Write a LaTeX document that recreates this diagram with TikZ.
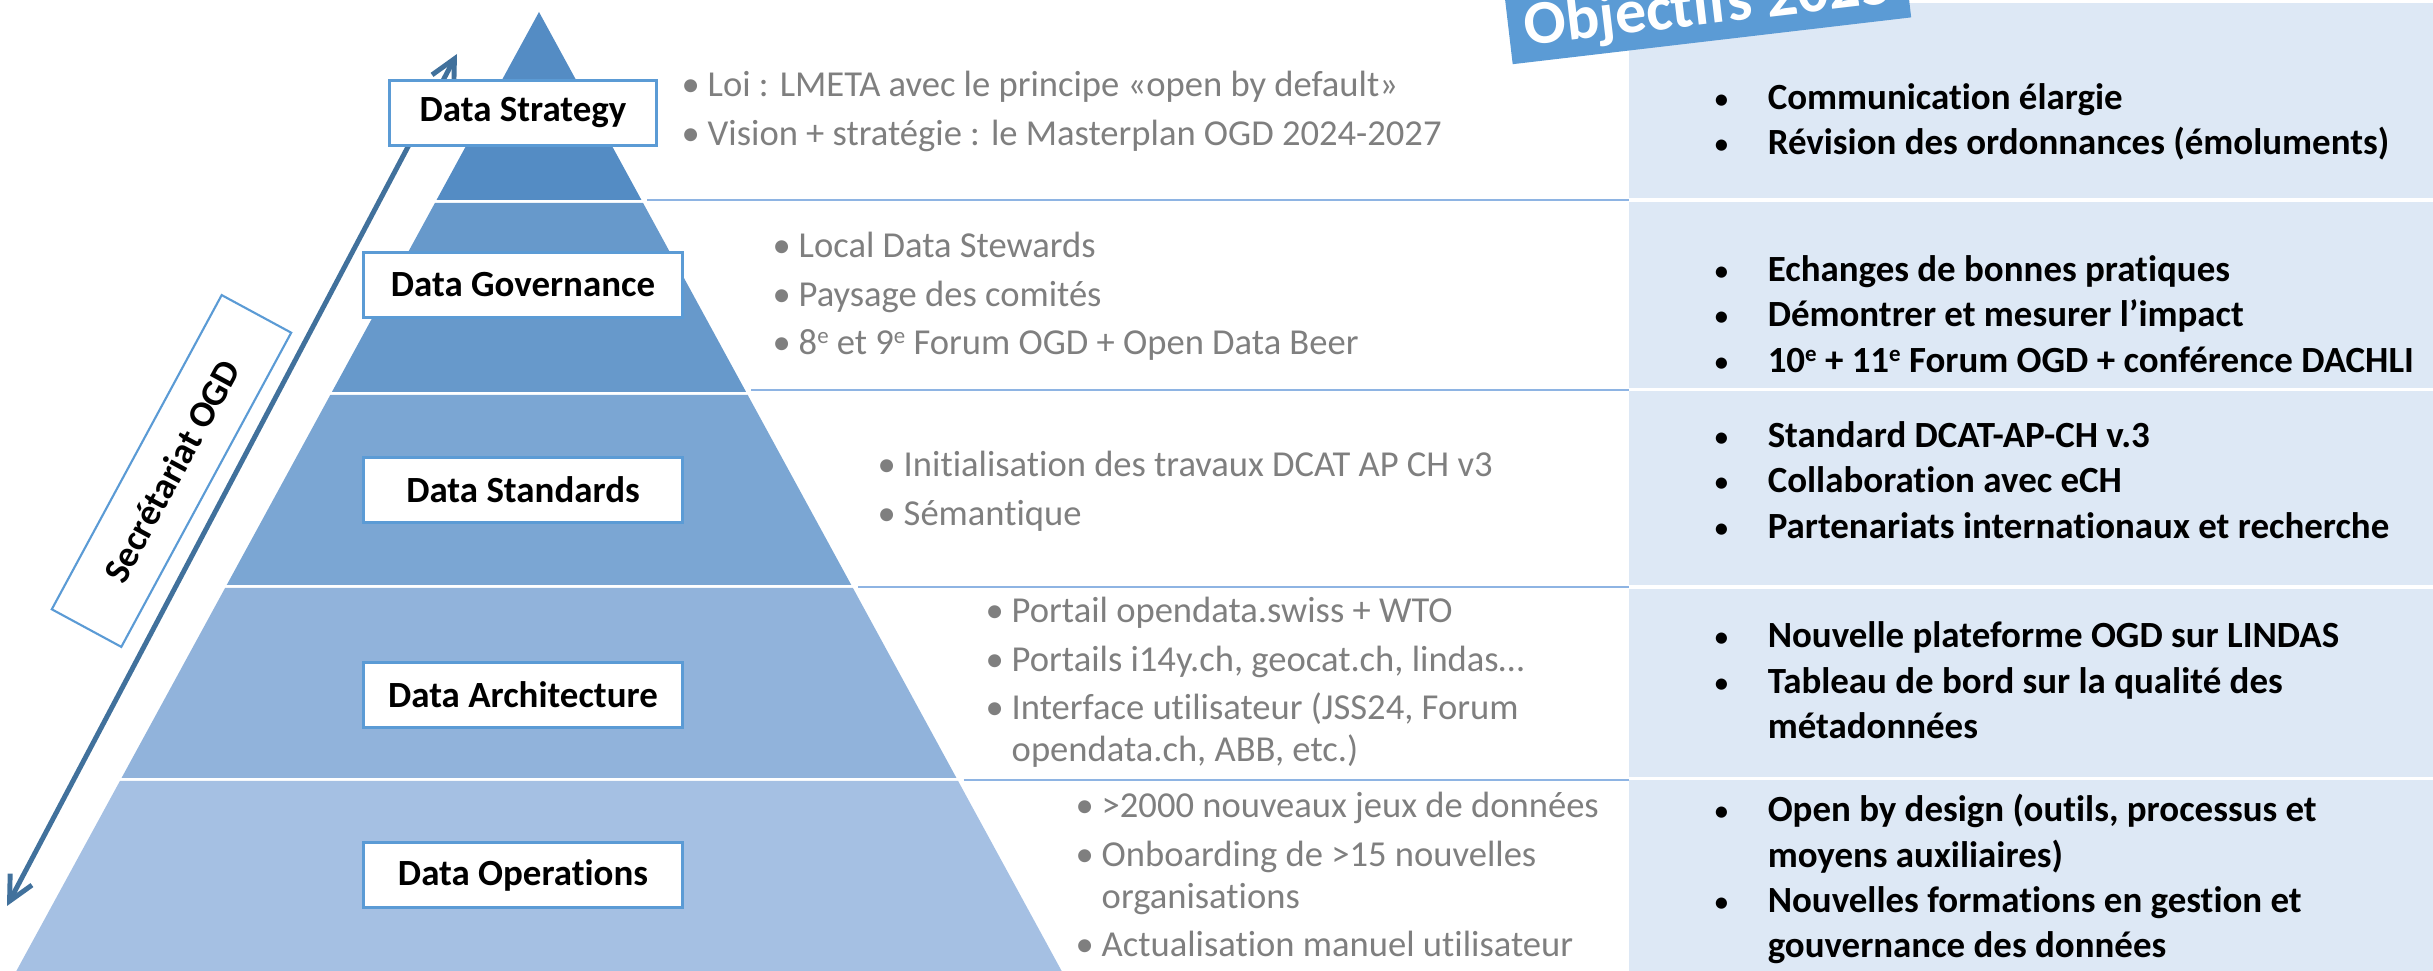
\documentclass[tikz,border=0pt]{standalone}
\usepackage{fontspec}
\setmainfont{Carlito}[Ligatures=NoCommon]
\usetikzlibrary{arrows.meta, positioning}

\definecolor{bandA}{RGB}{84,140,196}
\definecolor{bandB}{RGB}{103,153,203}
\definecolor{bandC}{RGB}{123,166,211}
\definecolor{bandD}{RGB}{145,179,219}
\definecolor{bandE}{RGB}{165,192,227}
\definecolor{boxblue}{RGB}{91,155,213}
\definecolor{arrowblue}{RGB}{65,113,156}
\definecolor{sepblue}{RGB}{142,180,227}
\definecolor{panelblue}{RGB}{221,232,245}
\definecolor{greytxt}{RGB}{127,127,127}

\newcommand{\gi}{\makebox[0.26cm][l]{•}}
\newcommand{\oi}{\makebox[0.54cm][l]{\mdseries\fontsize{9pt}{9pt}\selectfont•}}
\newcommand{\ord}{\raisebox{0.6ex}{\fontsize{6.5pt}{6.5pt}\selectfont e}}

\tikzset{
  layerbox/.style={draw=boxblue, line width=0.85pt, fill=white, inner sep=0pt,
    minimum width=3.18cm, minimum height=0.65cm, font=\fontsize{10.5pt}{12pt}\selectfont\bfseries},
  achieved/.style={anchor=base west, inner sep=0pt, text=greytxt,
    font=\fontsize{10.4pt}{13.66pt}\selectfont},
  goals/.style={anchor=base west, inner sep=0pt,
    font=\fontsize{10.5pt}{12.8pt}\selectfont\bfseries},
  sepline/.style={draw=sepblue, line width=0.7pt},
  secarrow/.style={draw=arrowblue, line width=1.4pt, >={Straight Barb[length=7pt,width=7pt]}, <->},
}

\begin{document}
\begin{tikzpicture}[x=0.01cm, y=-0.01cm]
\useasboundingbox (0,0) rectangle (2433,971);
\clip (0,0) rectangle (2433,971);

% Objectives panel
\foreach \yt/\yb in {3/198, 202/388, 391/585, 589/777, 780/971}
    \fill[panelblue] (1629,\yt) rectangle (2433,\yb);

% Pyramid
\foreach \yt/\yb/\col in {12/200/bandA, 203/392/bandB, 395/585/bandC, 588/778/bandD, 781/971/bandE}
    \fill[\col] ({539-0.545*(\yt-12)},\yt) -- ({539+0.545*(\yt-12)},\yt)
        -- ({539+0.545*(\yb-12)},\yb) -- ({539-0.545*(\yb-12)},\yb) -- cycle;

% Separators
\foreach \ys in {200,390,587,780}
    \draw[sepline] ({545+0.545*(\ys-12)},\ys) -- (1629,\ys);

% Arrow and Secretariat
\coordinate (secup) at (457,54);
\coordinate (secdown) at (7,906);
\draw[secarrow] (secdown) -- (secup);
\node[draw=boxblue, line width=0.6pt, fill=white, rotate=61.6, minimum width=3.57cm,
    minimum height=0.79cm, font=\fontsize{10.5pt}{12pt}\selectfont\bfseries] (secr) at (171.5,471) {Secrétariat OGD};

% Layer boxes
\node[layerbox, minimum width=2.66cm] (strategy) at (523,113) {Data Strategy};
\node[layerbox] (governance) at (523,285) {Data Governance};
\node[layerbox] (standards) at (523,490) {Data Standards};
\node[layerbox] (architecture) at (523,695) {Data Architecture};
\node[layerbox] (operations) at (523,875) {Data Operations};

% Achievements
\node[achieved] (strtxt) at (681,97) {\begin{tabular}[t]{@{}l@{}}
    \gi Loi : LMETA avec le principe «open by default»\\
    \gi Vision + stratégie : le Masterplan OGD 2024-2027\end{tabular}};
\node[achieved] (govtxt) at (772,258) {\begin{tabular}[t]{@{}l@{}}
    \gi Local Data Stewards\\
    \gi Paysage des comités\\
    \gi 8\ord{} et 9\ord{} Forum OGD + Open Data Beer\end{tabular}};
\node[achieved] (stdtxt) at (877,477) {\begin{tabular}[t]{@{}l@{}}
    \gi Initialisation des travaux DCAT AP CH v3\\
    \gi Sémantique\end{tabular}};
\node[achieved] (archtxt) at (985,623) {\begin{tabular}[t]{@{}l@{}}
    \gi Portail opendata.swiss + WTO\\
    \gi Portails i14y.ch, geocat.ch, lindas…\\
    \gi Interface utilisateur (JSS24, Forum\\[-1.7pt]
    \hspace*{0.26cm}opendata.ch, ABB, etc.)\end{tabular}};
\node[achieved] (opstxt) at (1075,818) {\begin{tabular}[t]{@{}l@{}}
    \gi >2000 nouveaux jeux de données\\
    \gi Onboarding de >15 nouvelles\\[-1.7pt]
    \hspace*{0.26cm}organisations\\
    \gi Actualisation manuel utilisateur\end{tabular}};

% Objectives
\node[goals] (goal1) at (1713,110) {\begin{tabular}[t]{@{}l@{}}
    \oi Communication élargie\\
    \oi Révision des ordonnances (émoluments)\end{tabular}};
\node[goals] (goal2) at (1713,282) {\begin{tabular}[t]{@{}l@{}}
    \oi Echanges de bonnes pratiques\\
    \oi Démontrer et mesurer l’impact\\
    \oi 10\ord{} + 11\ord{} Forum OGD + conférence DACHLI\end{tabular}};
\node[goals] (goal3) at (1713,448) {\begin{tabular}[t]{@{}l@{}}
    \oi Standard DCAT-AP-CH v.3\\
    \oi Collaboration avec eCH\\
    \oi Partenariats internationaux et recherche\end{tabular}};
\node[goals] (goal4) at (1713,648) {\begin{tabular}[t]{@{}l@{}}
    \oi Nouvelle plateforme OGD sur LINDAS\\
    \oi Tableau de bord sur la qualité des\\
    \hspace*{0.54cm}métadonnées\end{tabular}};
\node[goals] (goal5) at (1713,822) {\begin{tabular}[t]{@{}l@{}}
    \oi Open by design (outils, processus et\\
    \hspace*{0.54cm}moyens auxiliaires)\\
    \oi Nouvelles formations en gestion et\\
    \hspace*{0.54cm}gouvernance des données\end{tabular}};

% Title tag
\node[fill=boxblue, text=white, rotate=6.7, anchor=south, inner xsep=0.1cm, inner ysep=0pt,
    minimum width=4.01cm, text height=0.7cm, text depth=0.17cm,
    font=\fontsize{17.7pt}{20pt}\selectfont\bfseries] (title) at (1712,41.5) {Objectifs 2025};
\end{tikzpicture}
\end{document}
